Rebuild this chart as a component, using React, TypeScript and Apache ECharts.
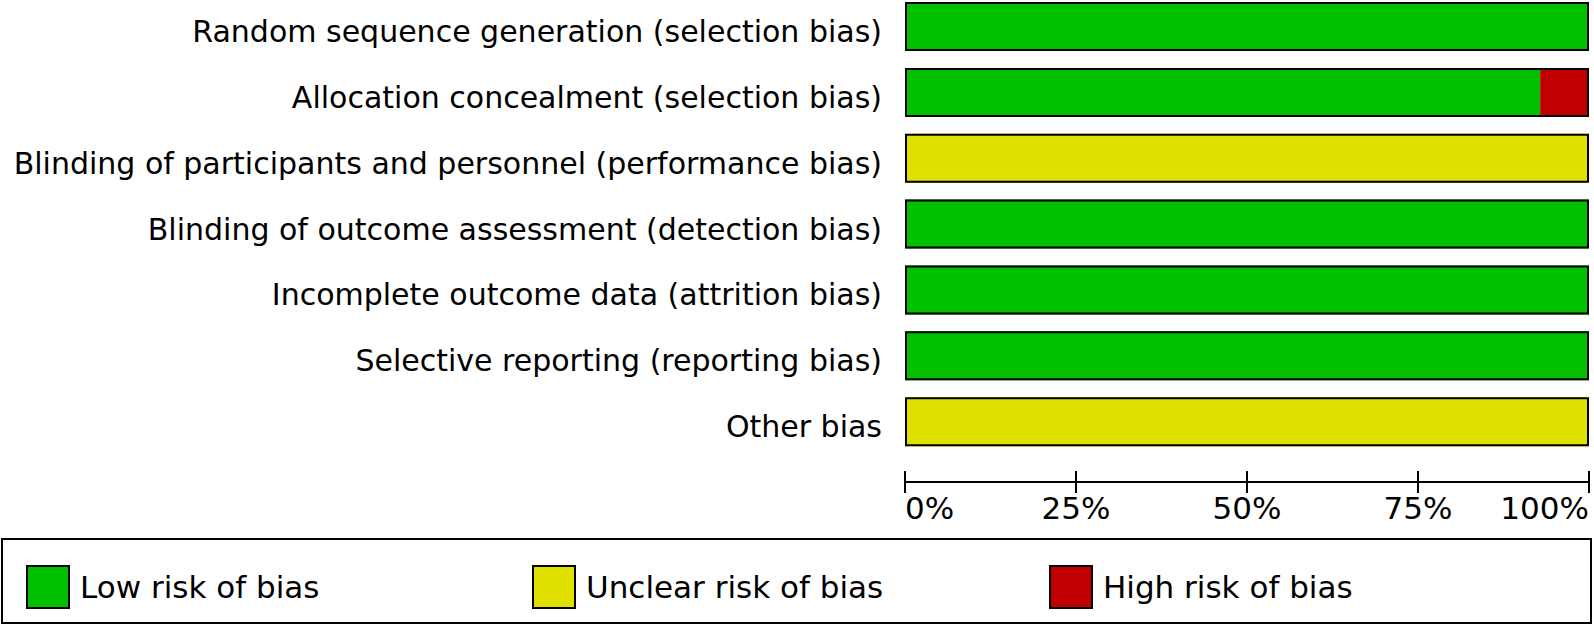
import React, { useEffect, useRef } from "react";
import * as echarts from "echarts";

const categories = [
  "Random sequence generation (selection bias)",
  "Allocation concealment (selection bias)",
  "Blinding of participants and personnel (performance bias)",
  "Blinding of outcome assessment (detection bias)",
  "Incomplete outcome data (attrition bias)",
  "Selective reporting (reporting bias)",
  "Other bias",
];
const lowRisk = [100, 92.86, 0, 100, 100, 100, 0];
const unclearRisk = [0, 0, 100, 0, 0, 0, 100];
const highRisk = [0, 7.14, 0, 0, 0, 0, 0];
const outline = [100, 100, 100, 100, 100, 100, 100];
const seriesNames = ["Low risk of bias", "Unclear risk of bias", "High risk of bias"];
const colors = ["#00C000", "#E0E000", "#C00000"];

const FONT = "DejaVu Sans";

export default function App() {
  const ref = useRef<HTMLDivElement>(null);
  useEffect(() => {
    if (!ref.current) return;
    const chart = echarts.init(ref.current, null, { renderer: "svg" });
    const legendLefts = [26, 532, 1049];
    const commonX = {
      type: "value",
      min: 0,
      max: 100,
      interval: 25,
      position: "bottom",
      offset: 27.5,
      splitLine: { show: false },
      axisLine: { show: true, lineStyle: { color: "#000", width: 2 } },
    };
    chart.setOption({
      animation: false,
      backgroundColor: "#fff",
      textStyle: { fontFamily: FONT },
      grid: {
        left: 905,
        width: 684,
        top: -6.4,
        height: 461,
        containLabel: false,
        outerBoundsMode: "none",
      },
      xAxis: [
        {
          ...commonX,
          axisTick: { show: true, inside: false, length: 11, lineStyle: { color: "#000", width: 2 } },
          axisLabel: {
            show: true,
            color: "#000",
            fontSize: 31,
            fontFamily: FONT,
            margin: 10,
            formatter: (v: number) => v + "%",
            alignMinLabel: "left",
            alignMaxLabel: "right",
          },
        },
        {
          ...commonX,
          axisTick: { show: true, inside: true, length: 11, lineStyle: { color: "#000", width: 2 } },
          axisLabel: { show: false },
        },
      ],
      yAxis: {
        type: "category",
        data: categories,
        inverse: true,
        axisLine: { show: false },
        axisTick: { show: false },
        axisLabel: {
          color: "#000",
          fontSize: 30,
          fontFamily: FONT,
          margin: 23,
          formatter: (v: string) => "{a|" + v + "}",
          rich: {
            a: { color: "#000", fontSize: 30, fontFamily: FONT, padding: [10, 0, 0, 0] },
          },
        },
      },
      legend: seriesNames.map((n, i) => ({
        data: [n],
        left: legendLefts[i],
        top: 565,
        itemWidth: 42,
        itemHeight: 42,
        itemGap: 0,
        icon: "rect",
        padding: 0,
        selectedMode: false,
        textStyle: { color: "#000", fontSize: 31, fontFamily: FONT, padding: [0, 0, 0, 6] },
        itemStyle: { borderColor: "#000", borderWidth: 2 },
      })),
      graphic: [
        {
          type: "rect",
          shape: { x: 2, y: 539, width: 1589, height: 84 },
          style: { fill: "none", stroke: "#000", lineWidth: 2 },
        },
      ],
      series: [
        ...seriesNames.map((n, i) => ({
          name: n,
          type: "bar",
          stack: "risk",
          data: [lowRisk, unclearRisk, highRisk][i],
          barWidth: 49,
          itemStyle: { color: colors[i] },
        })),
        {
          name: "outline",
          type: "bar",
          data: outline,
          barWidth: 49,
          barGap: "-100%",
          z: 5,
          silent: true,
          itemStyle: { color: "transparent", borderColor: "#000", borderWidth: 2 },
        },
      ],
    });
    return () => chart.dispose();
  }, []);
  return (
    <div
      ref={ref}
      style={{ position: "absolute", left: 0, top: 0, width: 1594, height: 626 }}
    />
  );
}
